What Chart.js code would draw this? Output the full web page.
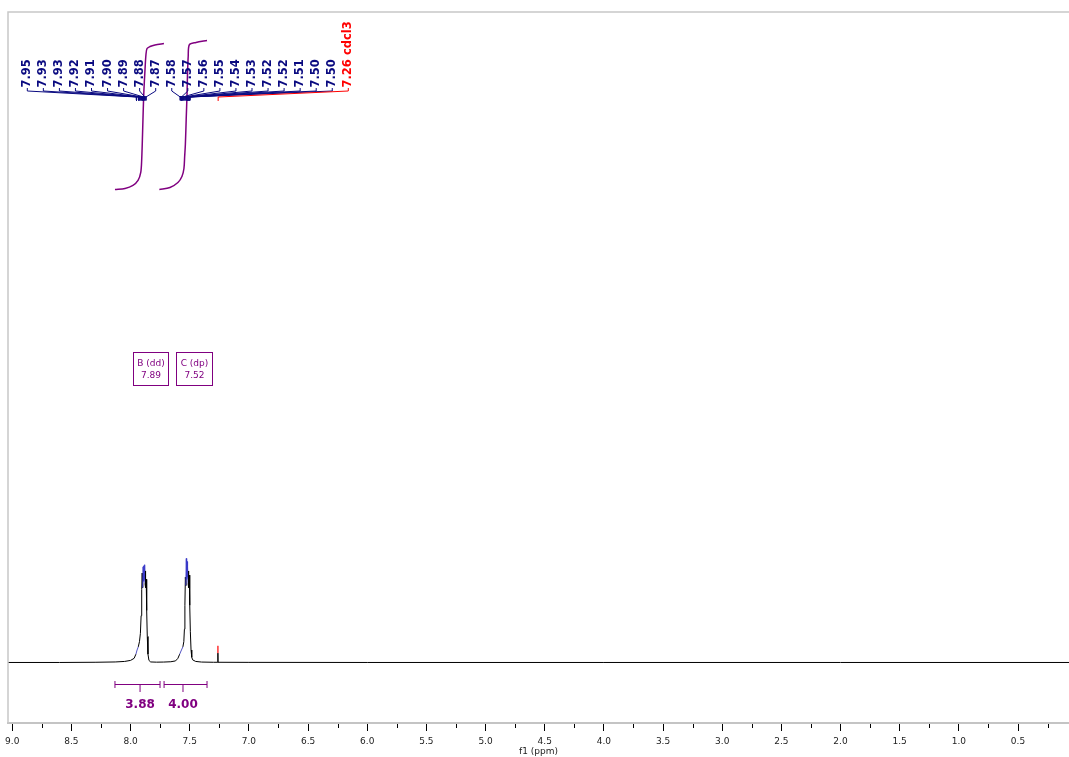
<!DOCTYPE html>
<html>
<head>
  <title>1H NMR</title>
  <meta name="viewport" content="width=device-width, initial-scale=1">
  <script src="https://cdn.jsdelivr.net/npm/chart.js"></script>
  <style>
    body {
      margin: 0;
      padding: 0;
      background-color: #ffffff;
    }

    #chart-container {
      width: 1069px;
      height: 757px;
    }
  </style>
</head>
<body>

  <div id="chart-container">
    <canvas id="myChart"></canvas>
  </div>

  <script>
    // spectrum (ppm, intensity)
    const specPpm = [9.04, 8.60, 8.30, 8.13, 8.05, 8.00, 7.97, 7.955, 7.945, 7.935, 7.925, 7.917, 7.911, 7.906, 7.902, 7.898, 7.894, 7.890, 7.887, 7.884, 7.881, 7.878, 7.875, 7.872, 7.868, 7.864, 7.859, 7.853, 7.845, 7.83, 7.78, 7.72, 7.66, 7.62, 7.60, 7.585, 7.57, 7.558, 7.55, 7.545, 7.541, 7.537, 7.533, 7.529, 7.526, 7.523, 7.520, 7.517, 7.514, 7.511, 7.508, 7.504, 7.500, 7.495, 7.489, 7.483, 7.475, 7.45, 7.40, 7.30, 7.263, 7.2621, 7.262, 7.2619, 7.261, 7.0, 6.0, 4.0, 2.0, 0.0];
    const specInt = [0, 0, 0.002, 0.005, 0.01, 0.02, 0.04, 0.08, 0.12, 0.15, 0.2, 0.28, 0.45, 0.7, 0.86, 0.72, 0.92, 0.78, 0.93, 0.8, 0.94, 0.76, 0.88, 0.72, 0.8, 0.5, 0.25, 0.08, 0.02, 0.005, 0.003, 0.004, 0.007, 0.015, 0.04, 0.08, 0.12, 0.15, 0.2, 0.32, 0.55, 0.82, 0.74, 1.0, 0.8, 0.97, 0.82, 0.92, 0.76, 0.88, 0.72, 0.84, 0.55, 0.3, 0.12, 0.05, 0.025, 0.01, 0.004, 0.002, 0.002, 0.09, 0.16, 0.09, 0.002, 0.001, 0, 0, 0, 0];

    // integral curves
    const int1Ppm = [8.132, 8.047, 7.980, 7.937, 7.914, 7.906, 7.899, 7.893, 7.887, 7.878, 7.870, 7.861, 7.836, 7.794, 7.718];
    const int1Val = [4.548, 4.558, 4.587, 4.635, 4.712, 4.837, 5.077, 5.317, 5.510, 5.702, 5.846, 5.904, 5.923, 5.938, 5.952];
    const int2Ppm = [7.757, 7.667, 7.600, 7.566, 7.549, 7.543, 7.537, 7.530, 7.523, 7.519, 7.513, 7.503, 7.447, 7.354];
    const int2Val = [4.548, 4.567, 4.615, 4.673, 4.750, 4.865, 4.981, 5.221, 5.462, 5.654, 5.827, 5.942, 5.962, 5.981];

    const integralFrom = [8.132, 7.717];
    const integralTo = [7.751, 7.354];
    const integralMid = [7.92, 7.557];
    const integralText = ['3.88', '4.00'];

    const peakLabels = ['7.95', '7.93', '7.93', '7.92', '7.91', '7.90', '7.89', '7.88', '7.87', '7.58', '7.57', '7.56', '7.55', '7.54', '7.53', '7.52', '7.52', '7.51', '7.50', '7.50'];
    const solventLabel = '7.26 cdcl3';
    const solventPpm = 7.26;

    const multipletNames = ['B (dd)', 'C (dp)'];
    const multipletShift = [7.89, 7.52];

    const xTicks = ['9.0', '8.5', '8.0', '7.5', '7.0', '6.5', '6.0', '5.5', '5.0', '4.5', '4.0', '3.5', '3.0', '2.5', '2.0', '1.5', '1.0', '0.5'];

    const spectrum = specPpm.map((p, i) => ({ x: p, y: specInt[i] }));
    const integral1 = int1Ppm.map((p, i) => ({ x: p, y: int1Val[i] }));
    const integral2 = int2Ppm.map((p, i) => ({ x: p, y: int2Val[i] }));

    const PURPLE = '#800080';
    const NAVY = '#0a0a80';

    const nmrPlugin = {
      id: 'nmr',
      afterDatasetsDraw(chart) {
        const c = chart.ctx;
        const xs = chart.scales.x;
        const a = chart.chartArea;

        // frame (left + top)
        c.save();
        c.strokeStyle = '#c8c8c8';
        c.lineWidth = 1.5;
        c.beginPath();
        c.moveTo(a.left, a.bottom);
        c.lineTo(a.left, a.top);
        c.lineTo(a.right, a.top);
        c.stroke();

        // minor ticks
        c.strokeStyle = '#000';
        c.lineWidth = 1;
        for (let v = 0.25; v < 9.1; v += 0.5) {
          const px = Math.round(xs.getPixelForValue(v)) + 0.5;
          c.beginPath();
          c.moveTo(px, a.bottom + 1);
          c.lineTo(px, a.bottom + 5);
          c.stroke();
        }

        // peak labels
        const allLabels = peakLabels.map(t => ({ t: t, ppm: parseFloat(t), color: NAVY }));
        allLabels.push({ t: solventLabel, ppm: solventPpm, color: '#ff0000' });
        c.font = 'bold 11.5px "DejaVu Sans"';
        allLabels.forEach((l, i) => {
          const lx = 27.3 + 16.05 * i;
          const px = xs.getPixelForValue(l.ppm);
          c.strokeStyle = l.color;
          c.lineWidth = 1;
          c.beginPath();
          c.moveTo(lx, 88);
          c.lineTo(lx, 91);
          c.lineTo(px, 97);
          c.lineTo(px, 101);
          c.stroke();
          c.save();
          c.translate(lx, 87.5);
          c.rotate(-Math.PI / 2);
          c.fillStyle = l.color;
          c.textAlign = 'left';
          c.textBaseline = 'middle';
          c.fillText(l.t, 0, 0);
          c.restore();
        });
        // picked peak marks
        c.strokeStyle = NAVY;
        c.lineWidth = 1.5;
        peakLabels.forEach(t => {
          const px = xs.getPixelForValue(parseFloat(t));
          c.beginPath();
          c.moveTo(px, 96);
          c.lineTo(px, 100);
          c.stroke();
        });

        // integral bars
        c.strokeStyle = PURPLE;
        c.fillStyle = PURPLE;
        c.lineWidth = 1;
        c.font = 'bold 12px "DejaVu Sans"';
        c.textAlign = 'center';
        c.textBaseline = 'middle';
        integralFrom.forEach((f, i) => {
          const x0 = xs.getPixelForValue(f);
          const x1 = xs.getPixelForValue(integralTo[i]);
          const xm = xs.getPixelForValue(integralMid[i]);
          c.beginPath();
          c.moveTo(x0, 684.5); c.lineTo(x1, 684.5);
          c.moveTo(x0, 681); c.lineTo(x0, 688);
          c.moveTo(x1, 681); c.lineTo(x1, 688);
          c.moveTo(xm, 684); c.lineTo(xm, 692);
          c.stroke();
          c.fillText(integralText[i], xm, 705);
        });

        // multiplet boxes, laid out left to right
        c.font = '9px "DejaVu Sans"';
        let nextLeft = -Infinity;
        multipletNames.forEach((n, i) => {
          const txt2 = multipletShift[i].toFixed(2);
          const w = Math.round(Math.max(c.measureText(n).width, c.measureText(txt2).width) + 8);
          let left = Math.round(xs.getPixelForValue(multipletShift[i]) + 6.5 - w / 2);
          if (left < nextLeft) left = nextLeft;
          nextLeft = left + w + 7;
          c.strokeRect(left + 0.5, 352.5, w, 33);
          c.fillText(n, left + w / 2 + 0.5, 364);
          c.fillText(txt2, left + w / 2 + 0.5, 376);
        });
        c.restore();
      }
    };

    const ctx = document.getElementById('myChart').getContext('2d');
    const chart = new Chart(ctx, {
      type: 'line',
      data: {
        datasets: [{
          label: 'f1',
          data: spectrum,
          borderColor: '#000',
          borderWidth: 1,
          pointRadius: 0,
          tension: 0,
          segment: {
            borderColor: s => {
              const y0 = s.p0.parsed.y, y1 = s.p1.parsed.y, x0 = s.p0.parsed.x;
              if (x0 < 7.27 && x0 > 7.25 && Math.min(y0, y1) > 0.08) return '#ff3030';
              if (Math.max(y0, y1) > 0.9) return '#3a3ac8';
              if (Math.max(y0, y1) < 0.16 && Math.min(y0, y1) > 0.07 && x0 > 7.4) return '#5050c0';
              return '#000';
            }
          }
        }, {
          label: 'int1',
          data: integral1,
          borderColor: PURPLE,
          borderWidth: 1.5,
          pointRadius: 0,
          tension: 0.3
        }, {
          label: 'int2',
          data: integral2,
          borderColor: PURPLE,
          borderWidth: 1.5,
          pointRadius: 0,
          tension: 0.3
        }]
      },
      options: {
        responsive: true,
        maintainAspectRatio: false,
        animation: false,
        layout: { padding: { top: 12, left: 8, right: 0, bottom: 0 } },
        plugins: {
          legend: { display: false },
          tooltip: { enabled: false }
        },
        scales: {
          x: {
            type: 'linear',
            reverse: true,
            min: 0.069,
            max: 9.036,
            afterFit: s => { s.height = 34; },
            afterBuildTicks: s => { s.ticks = xTicks.map(t => ({ value: parseFloat(t) })); },
            ticks: {
              autoSkip: false,
              maxRotation: 0,
              padding: 5,
              color: '#222',
              font: { family: 'DejaVu Sans', size: 9 },
              callback: v => v.toFixed(1)
            },
            grid: {
              drawOnChartArea: false,
              drawTicks: true,
              tickLength: 8,
              tickColor: '#000'
            },
            border: { display: true, color: '#c4c4c4', width: 2 },
            title: {
              display: true,
              text: 'f1 (ppm)',
              color: '#222',
              font: { family: 'DejaVu Sans', size: 9 },
              padding: { top: 0, bottom: 0 }
            }
          },
          y: {
            display: false,
            min: -0.582,
            max: 6.255
          }
        }
      },
      plugins: [nmrPlugin]
    });
  </script>

</body>
</html>
